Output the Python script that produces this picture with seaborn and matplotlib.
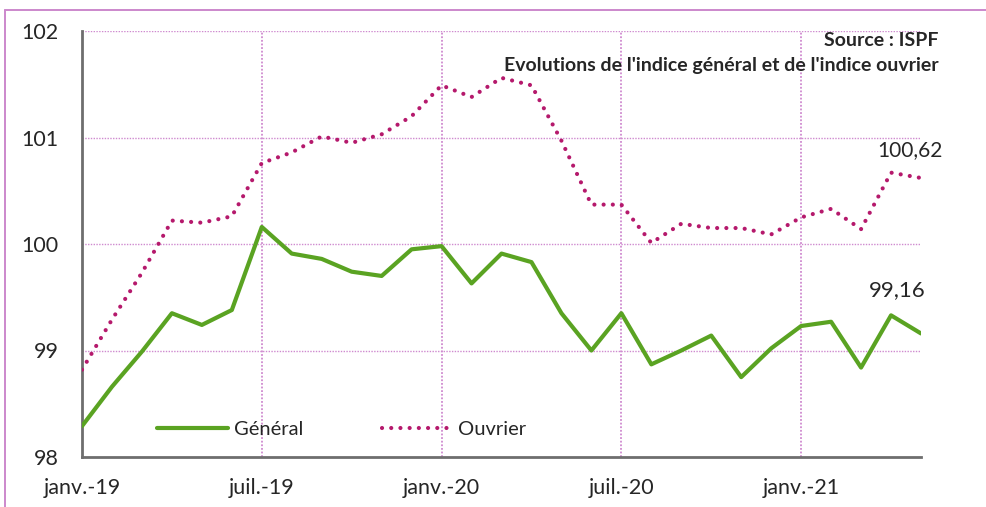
import pandas as pd
import seaborn as sns
import matplotlib.pyplot as plt
from matplotlib.lines import Line2D

# monthly values, janv.-19 .. mai-21
months = list(range(29))
general = [98.29, 98.66, 98.99, 99.35, 99.24, 99.38, 100.16, 99.91, 99.86, 99.74,
           99.70, 99.95, 99.98, 99.63, 99.91, 99.83, 99.35, 99.00, 99.35, 98.87,
           99.00, 99.14, 98.75, 99.02, 99.23, 99.27, 98.84, 99.33, 99.16]
ouvrier = [98.82, 99.29, 99.73, 100.22, 100.20, 100.26, 100.76, 100.86, 101.01, 100.95,
           101.03, 101.20, 101.49, 101.38, 101.56, 101.49, 100.97, 100.37, 100.37, 100.01,
           100.19, 100.15, 100.15, 100.09, 100.25, 100.33, 100.14, 100.67, 100.62]
tick_pos = [0, 6, 12, 18, 24]
tick_labels = ['janv.-19', 'juil.-19', 'janv.-20', 'juil.-20', 'janv.-21']
y_ticks = [98, 99, 100, 101, 102]

df = pd.DataFrame({'mois': months, 'Général': general, 'Ouvrier': ouvrier})

sns.set_style('white')
plt.rcParams['font.family'] = ['Lato', 'DejaVu Sans']

green = '#5AA322'
pink = '#B5196C'
grid_col = '#CF8ACF'
dots = (0, (0.01, 2.2))

fig = plt.figure(figsize=(9.86, 5.07), dpi=100)
W, H = 986, 507
ax = fig.add_axes([82 / W, 1 - 457 / H, (921 - 82) / W, (457 - 31) / H])

# outer frame (cropped on right / bottom)
fig.add_artist(Line2D([5 / W, 5 / W], [0, 1 - 10 / H], color='#CC88CC', lw=1.4))
fig.add_artist(Line2D([5 / W, 1], [1 - 10 / H, 1 - 10 / H], color='#CC88CC', lw=1.4))

# grid
for y in y_ticks[1:]:
    ax.axhline(y, color=grid_col, lw=1, ls=(0, (1, 1)), zorder=0)
for x in tick_pos[1:]:
    ax.axvline(x, color=grid_col, lw=1.3, ls=(0, (1, 1)), zorder=0)

sns.lineplot(data=df, x='mois', y='Général', ax=ax, color=green, lw=3, zorder=3)
sns.lineplot(data=df, x='mois', y='Ouvrier', ax=ax, color=pink, lw=3, zorder=3)
ln = ax.get_lines()[-1]
ln.set_linestyle(dots)
ln.set_dash_capstyle('round')

ax.set_xlim(0, 28)
ax.set_ylim(98, 102)
ax.set_xticks(tick_pos)
ax.set_xticklabels(tick_labels)
ax.set_yticks(y_ticks)
ax.set_xlabel('')
ax.set_ylabel('')
ax.tick_params(axis='x', length=6, width=2, color='#6E6E6E', labelsize=15.5, pad=9)
ax.tick_params(axis='y', length=0, labelsize=15.5, pad=17)
for s in ['top', 'right']:
    ax.spines[s].set_visible(False)
for s in ['left', 'bottom']:
    ax.spines[s].set_color('#6E6E6E')
    ax.spines[s].set_linewidth(2)

# legend
h1 = Line2D([], [], color=green, lw=3)
h2 = Line2D([], [], color=pink, lw=3, ls=dots, dash_capstyle='round')
ax.legend([h1, h2], ['Général', 'Ouvrier'], ncol=2, frameon=False, fontsize=14.5,
          loc='center left', bbox_to_anchor=((147 - 82) / (921 - 82), (457 - 429) / 426),
          borderpad=0, handlelength=3.5, handletextpad=0.3, columnspacing=3.9)

# end labels
ax.annotate('100,62', (28, ouvrier[-1]), xytext=(-8, 20), textcoords='offset points',
            ha='center', va='center', fontsize=15)
ax.annotate('99,16', (28, general[-1]), xytext=(-17, 31), textcoords='offset points',
            ha='center', va='center', fontsize=16)

fig.text(939 / W, 1 - 41 / H, 'Source : ISPF', ha='right', va='center',
         fontsize=14, fontweight='bold')
fig.text(939 / W, 1 - 65 / H, "Evolutions de l'indice général et de l'indice ouvrier",
         ha='right', va='center', fontsize=14, fontweight='bold')

fig.savefig('out.png', dpi=100)
